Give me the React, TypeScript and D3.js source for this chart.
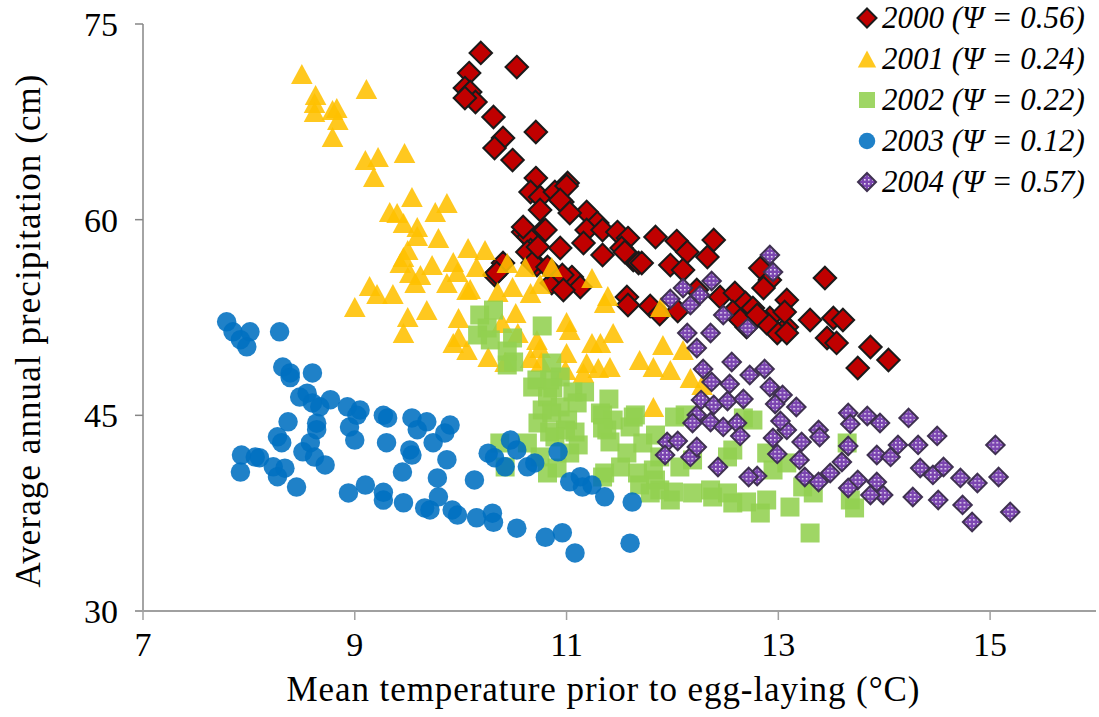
import React, { useRef, useEffect } from 'react';
import * as d3 from 'd3';

type Pt = [number, number];

const years = ['2000', '2001', '2002', '2003', '2004'];
const psiValues = ['0.56', '0.24', '0.22', '0.12', '0.57'];
const xTicks = [7, 9, 11, 13, 15];
const yTicks = [30, 45, 60, 75];

// 2000 - red diamonds
const pts2000: Pt[] = [
  [10.19, 72.78], [10.53, 71.7], [10.08, 71.24], [10.04, 70.09], [10.09, 69.79],
  [10.14, 69.02], [10.04, 69.33], [10.31, 67.87], [10.71, 66.72], [10.4, 66.26],
  [10.32, 65.49], [10.49, 64.57], [10.71, 63.19], [11.01, 62.81], [10.66, 62.12],
  [10.75, 61.74], [10.89, 62.12], [10.96, 61.35], [10.75, 60.74], [11.19, 60.59],
  [11.29, 59.74], [10.59, 59.05], [10.64, 58.67], [10.78, 59.21], [11.19, 59.21],
  [11.34, 59.21], [11.48, 59.05], [11.58, 58.59], [11.84, 58.67], [12.04, 58.36],
  [12.39, 58.44], [10.66, 57.67], [10.94, 57.83], [11.16, 58.21], [11.34, 57.29],
  [11.52, 57.83], [11.63, 56.91], [11.68, 56.68], [11.98, 56.52], [12.14, 57.52],
  [12.1, 56.14], [12.33, 57.14], [10.32, 55.76], [10.4, 56.68], [10.72, 56.52],
  [10.86, 55.14], [11.05, 55.6], [11.13, 54.84], [10.96, 55.76], [11.57, 54.07],
  [12.45, 54.07], [12.59, 54.38], [11.0, 62.58], [10.94, 61.51], [10.8, 59.21],
  [11.55, 57.52], [11.58, 53.46], [11.79, 53.38], [11.88, 52.77], [12.05, 53.0],
  [12.69, 53.61], [12.76, 53.23], [12.83, 56.29], [12.92, 55.37], [12.92, 52.46],
  [13.08, 53.84], [13.08, 51.77], [13.06, 52.92], [13.3, 52.31], [13.44, 55.53],
  [12.7, 51.77], [12.57, 52.92], [12.64, 52.31], [12.99, 51.31], [13.08, 51.31],
  [13.52, 52.46], [13.61, 52.31], [13.46, 50.93], [13.55, 50.55], [13.87, 50.24],
  [14.04, 49.24], [13.75, 48.63], [10.34, 55.91], [10.63, 57.52], [10.68, 56.68],
  [10.73, 57.9], [10.82, 56.37], [10.97, 54.61], [10.59, 59.44], [11.03, 60.51],
  [11.71, 56.68], [12.23, 54.61], [12.89, 52.08], [12.8, 52.69], [12.86, 54.76],
];

// 2001 - yellow triangles
const pts2001: Pt[] = [
  [8.5, 71.17], [8.63, 69.56], [8.62, 68.94], [8.62, 68.25], [8.79, 68.41],
  [8.83, 68.56], [8.84, 67.64], [8.79, 66.34], [9.11, 70.02], [9.1, 64.57],
  [9.22, 64.8], [9.18, 63.27], [9.47, 65.11], [9.54, 61.74], [9.33, 60.59],
  [9.4, 60.51], [9.46, 59.74], [9.59, 59.44], [9.59, 58.75], [9.76, 60.59],
  [9.87, 61.28], [9.79, 58.59], [9.46, 57.14], [9.43, 56.68], [9.5, 57.67],
  [9.52, 55.91], [9.62, 55.76], [9.57, 55.14], [9.73, 56.52], [9.93, 56.75],
  [9.97, 55.99], [9.87, 55.14], [10.07, 57.83], [10.23, 57.67], [10.15, 56.37],
  [10.09, 54.68], [9.14, 54.91], [9.21, 54.3], [9.36, 54.3], [9.0, 53.3],
  [9.5, 52.54], [9.68, 53.07], [9.46, 51.31], [9.98, 52.46], [9.98, 51.0],
  [10.06, 50.01], [10.44, 56.68], [10.61, 56.37], [10.86, 56.37], [10.35, 54.45],
  [10.49, 54.84], [10.75, 55.07], [10.66, 54.38], [10.52, 52.84], [10.39, 52.08],
  [10.54, 51.31], [10.72, 50.78], [10.75, 50.16], [10.26, 49.47], [10.42, 49.09],
  [10.66, 49.39], [10.76, 49.09], [11.0, 52.15], [11.03, 51.54], [11.44, 51.31],
  [11.24, 50.55], [11.32, 50.55], [11.0, 49.78], [10.99, 48.47], [11.19, 49.01],
  [11.16, 48.24], [11.3, 48.63], [11.41, 48.71], [11.69, 49.24], [11.82, 48.71],
  [11.91, 50.39], [11.98, 48.47], [12.1, 50.01], [12.17, 47.86], [12.28, 47.33],
  [11.82, 45.64], [11.89, 53.3], [11.24, 55.53], [11.39, 54.15], [11.36, 53.61],
  [10.06, 54.61], [9.93, 50.55],
];

// 2002 - green squares
const pts2002: Pt[] = [
  [10.18, 52.69], [10.31, 53.07], [10.25, 51.69], [10.16, 51.16], [10.28, 50.78],
  [10.49, 50.93], [10.44, 49.93], [10.5, 49.09], [10.77, 51.85], [10.86, 49.01],
  [10.44, 48.86], [10.72, 47.71], [10.84, 47.71], [10.94, 47.94], [10.68, 47.17],
  [10.82, 46.41], [10.87, 47.1], [11.06, 46.79], [11.17, 46.79], [11.4, 46.25],
  [10.77, 45.41], [10.94, 45.64], [11.1, 45.95], [10.73, 44.41], [10.84, 43.72],
  [10.99, 43.88], [11.11, 42.73], [11.03, 42.11], [11.34, 45.03], [11.38, 43.88],
  [11.41, 42.96], [11.65, 45.03], [11.6, 44.11], [11.84, 43.49], [12.12, 45.03],
  [12.67, 44.8], [10.37, 42.88], [10.42, 41.04], [10.63, 42.88], [10.75, 41.81],
  [10.91, 40.96], [10.82, 40.58], [11.36, 40.58], [11.51, 41.04], [11.67, 40.58],
  [11.82, 40.81], [11.69, 39.66], [11.88, 39.28], [12.01, 39.12], [12.19, 39.05],
  [12.38, 38.74], [12.52, 39.05], [12.57, 38.28], [12.7, 38.36], [12.83, 37.51],
  [12.89, 38.51], [13.11, 37.97], [13.3, 35.98], [12.52, 41.81], [12.57, 42.34],
  [12.89, 42.11], [12.95, 40.81], [13.08, 41.35], [13.23, 39.51], [13.65, 42.88],
  [13.68, 38.51], [13.33, 39.05], [11.88, 41.81], [12.07, 41.04], [12.19, 41.58],
  [11.57, 42.11], [11.72, 42.88], [12.02, 44.87], [10.86, 45.18], [11.01, 44.64],
  [11.08, 43.72], [11.32, 45.18], [11.44, 44.64], [11.63, 44.87], [11.34, 44.03],
  [10.89, 43.34], [11.34, 40.27], [11.84, 40.04], [11.79, 39.05], [11.98, 38.51],
  [12.76, 44.64], [13.72, 37.9], [12.36, 39.28],
];

// 2003 - blue circles
const pts2003: Pt[] = [
  [7.79, 52.17], [7.85, 51.4], [8.01, 51.4], [7.98, 50.25], [7.92, 50.8],
  [8.29, 51.4], [8.32, 48.7], [8.39, 48.25], [8.39, 47.9], [8.6, 48.25],
  [8.48, 46.4], [8.55, 46.7], [8.6, 45.95], [8.77, 46.2], [8.67, 45.65],
  [8.93, 45.65], [9.05, 45.4], [9.02, 45.0], [9.27, 45.0], [9.31, 44.8],
  [9.54, 44.8], [9.68, 44.5], [8.37, 44.5], [8.64, 44.4], [8.64, 43.9],
  [8.95, 44.1], [9.0, 43.1], [8.27, 43.35], [8.31, 42.9], [8.58, 42.9],
  [8.51, 42.2], [8.62, 41.8], [8.72, 41.2], [9.3, 42.9], [9.52, 42.35],
  [9.54, 41.95], [9.59, 43.9], [9.74, 42.9], [7.93, 41.95], [8.06, 41.8],
  [8.1, 41.75], [7.92, 40.65], [8.23, 41.05], [8.34, 40.95], [8.27, 40.3],
  [8.45, 39.5], [9.45, 40.65], [9.78, 40.2], [8.94, 39.05], [9.1, 39.65],
  [9.27, 39.1], [9.27, 38.5], [9.46, 38.3], [9.66, 37.9], [9.71, 37.75],
  [9.79, 38.75], [9.9, 44.25], [9.85, 43.65], [9.87, 41.6], [9.92, 37.75],
  [9.97, 37.35], [10.13, 40.05], [10.26, 42.1], [10.32, 41.75], [10.47, 43.1],
  [10.53, 42.35], [10.42, 41.05], [10.63, 41.05], [10.7, 41.35], [10.92, 42.2],
  [11.03, 39.9], [11.13, 40.3], [11.15, 39.5], [11.24, 39.65], [11.36, 38.75],
  [11.62, 38.35], [10.15, 37.15], [10.3, 37.5], [10.31, 36.8], [10.53, 36.35],
  [10.8, 35.65], [10.96, 36.0], [11.08, 34.45], [11.6, 35.2],
];

// 2004 - purple patterned diamonds
const pts2004: Pt[] = [
  [12.92, 57.29], [12.95, 55.99], [12.37, 55.3], [12.1, 54.76], [12.26, 54.22],
  [11.98, 53.92], [12.17, 53.46], [12.48, 52.69], [12.71, 51.69], [12.14, 51.31],
  [12.36, 51.31], [12.23, 50.16], [12.29, 48.55], [12.56, 49.09], [12.37, 47.56],
  [12.54, 47.4], [12.73, 48.09], [12.87, 48.55], [12.92, 47.17], [13.04, 46.56],
  [12.27, 46.17], [12.39, 45.79], [12.52, 46.1], [12.67, 46.25], [12.23, 45.03],
  [12.36, 44.49], [12.48, 44.11], [12.61, 44.41], [12.64, 43.42], [12.19, 44.41],
  [11.95, 42.96], [12.05, 43.03], [11.93, 41.96], [12.17, 41.81], [12.23, 42.57],
  [12.43, 41.04], [12.8, 40.35], [12.72, 40.27], [12.95, 43.26], [12.99, 42.04],
  [13.08, 43.88], [13.17, 45.64], [13.02, 44.57], [12.97, 45.87], [13.22, 42.96],
  [13.2, 41.58], [13.25, 40.27], [13.38, 43.88], [13.39, 43.34], [13.38, 39.89],
  [13.49, 40.58], [13.6, 41.42], [13.66, 45.18], [13.68, 44.34], [13.84, 44.95],
  [13.96, 44.41], [13.66, 42.65], [13.75, 40.04], [13.66, 39.43], [13.93, 39.89],
  [13.99, 38.89], [13.87, 38.89], [13.93, 41.96], [14.06, 41.81], [14.13, 42.73],
  [14.23, 44.8], [14.32, 42.73], [14.5, 43.42], [14.34, 40.96], [14.46, 40.43],
  [14.56, 41.04], [14.27, 38.74], [14.51, 38.51], [14.72, 40.2], [14.88, 39.81],
  [14.74, 38.13], [14.83, 36.82], [15.05, 42.73], [15.08, 40.27], [15.19, 37.59],
];

const seriesData: Pt[][] = [pts2000, pts2001, pts2002, pts2003, pts2004];

const width = 1099;
const height = 717;
const serif = "'Liberation Serif', 'Times New Roman', serif";

// marker shape path for a given series index and size
const markerPath = (i: number, s: number): string => {
  const h = s / 2;
  if (i === 0 || i === 4) return `M0,${-h}L${h},0L0,${h}L${-h},0Z`;
  if (i === 1) return `M0,${-h}L${h * 1.08},${h}L${-h * 1.08},${h}Z`;
  return `M${-h},${-h}H${h}V${h}H${-h}Z`;
};

const App: React.FC = () => {
  const svgRef = useRef<SVGSVGElement | null>(null);

  useEffect(() => {
    if (!svgRef.current) return;
    const svg = d3.select(svgRef.current);
    svg.selectAll('*').remove();

    const x = d3.scaleLinear().domain([7, 16]).range([143, 1096]);
    const y = d3.scaleLinear().domain([30, 75]).range([611, 24]);

    // pattern for 2004 markers
    const defs = svg.append('defs');
    const pat = defs
      .append('pattern')
      .attr('id', 'purpleGrid')
      .attr('patternUnits', 'userSpaceOnUse')
      .attr('width', 4)
      .attr('height', 4);
    pat.append('rect').attr('width', 4).attr('height', 4).attr('fill', '#7b45b0');
    pat.append('rect').attr('x', 1).attr('y', 1).attr('width', 1.6).attr('height', 1.6).attr('fill', '#e8ddf2');

    const fills = ['#C00000', '#FFC000', '#92D050', '#0070C0', 'url(#purpleGrid)'];
    const strokes = ['#1a1a1a', 'none', 'none', 'none', '#3f3151'];
    const strokeW = [2, 0, 0, 0, 2];
    const opac = [1, 0.88, 0.88, 0.88, 1];
    const sizes = [22.5, 20, 19, 19.5, 18.5];

    const drawMarker = (g: d3.Selection<SVGGElement, unknown, null, undefined>, i: number, cx: number, cy: number, s: number) => {
      if (i === 3) {
        g.append('circle')
          .attr('cx', cx)
          .attr('cy', cy)
          .attr('r', s / 2)
          .attr('fill', fills[i])
          .attr('fill-opacity', opac[i]);
      } else {
        g.append('path')
          .attr('d', markerPath(i, s))
          .attr('transform', `translate(${cx},${cy})`)
          .attr('fill', fills[i])
          .attr('fill-opacity', opac[i])
          .attr('stroke', strokes[i])
          .attr('stroke-width', strokeW[i]);
      }
    };

    // axes
    const axisG = svg.append('g');
    axisG
      .append('line')
      .attr('x1', x(7))
      .attr('x2', x(7))
      .attr('y1', y(75))
      .attr('y2', y(30))
      .attr('stroke', '#868686')
      .attr('stroke-width', 1.5);
    axisG
      .selectAll('line.ytick')
      .data(yTicks)
      .join('line')
      .attr('class', 'ytick')
      .attr('x1', x(7) - 8)
      .attr('x2', x(7))
      .attr('y1', (d) => y(d))
      .attr('y2', (d) => y(d))
      .attr('stroke', '#868686')
      .attr('stroke-width', 1.5);
    axisG
      .append('line')
      .attr('x1', x(7) - 8)
      .attr('x2', x(16))
      .attr('y1', y(30))
      .attr('y2', y(30))
      .attr('stroke', '#a0a0a0')
      .attr('stroke-width', 2);
    axisG
      .selectAll('line.xtick')
      .data(xTicks)
      .join('line')
      .attr('class', 'xtick')
      .attr('x1', (d) => x(d))
      .attr('x2', (d) => x(d))
      .attr('y1', y(30))
      .attr('y2', y(30) + 9)
      .attr('stroke', '#a0a0a0')
      .attr('stroke-width', 1.5);

    axisG
      .selectAll('text.ylab')
      .data(yTicks)
      .join('text')
      .attr('class', 'ylab')
      .attr('x', x(7) - 25)
      .attr('y', (d) => y(d) + 12)
      .attr('text-anchor', 'end')
      .attr('font-family', serif)
      .attr('font-size', 34)
      .attr('fill', '#000')
      .text((d) => d);
    axisG
      .selectAll('text.xlab')
      .data(xTicks)
      .join('text')
      .attr('class', 'xlab')
      .attr('x', (d) => x(d))
      .attr('y', y(30) + 45)
      .attr('text-anchor', 'middle')
      .attr('font-family', serif)
      .attr('font-size', 34)
      .attr('fill', '#000')
      .text((d) => d);

    svg
      .append('text')
      .attr('x', 603)
      .attr('y', 701)
      .attr('text-anchor', 'middle')
      .attr('font-family', serif)
      .attr('font-size', 35)
      .attr('textLength', 633)
      .attr('lengthAdjust', 'spacing')
      .text('Mean temperature prior to egg-laying (°C)');
    svg
      .append('text')
      .attr('transform', 'translate(40,331) rotate(-90)')
      .attr('text-anchor', 'middle')
      .attr('font-family', serif)
      .attr('font-size', 35)
      .attr('textLength', 513)
      .attr('lengthAdjust', 'spacing')
      .text('Average annual precipitation (cm)');

    // points
    seriesData.forEach((pts, i) => {
      const g = svg.append('g');
      pts.forEach(([vx, vy]) => drawMarker(g, i, x(vx), y(vy), sizes[i]));
    });

    // legend
    const legend = svg.append('g');
    const legendSizes = [19, 17, 16, 16.5, 18];
    years.forEach((yr, i) => {
      const cy = 18 + i * 41;
      drawMarker(legend, i, 867, cy, legendSizes[i]);
      legend
        .append('text')
        .attr('x', 882)
        .attr('y', cy + 10)
        .attr('font-family', serif)
        .attr('font-style', 'italic')
        .attr('font-size', 31)
        .attr('fill', '#000')
        .text(`${yr} (\u03A8 = ${psiValues[i]})`);
    });
  }, []);

  return <svg ref={svgRef} width={width} height={height} style={{ display: 'block', position: 'absolute', left: 0, top: 0, background: '#fff' }}></svg>;
};

export default App;
